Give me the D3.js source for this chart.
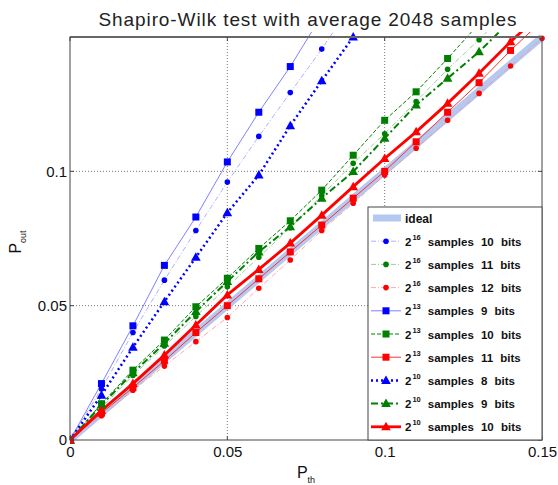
<!DOCTYPE html>
<html><head><meta charset="utf-8">
<script src="https://cdn.jsdelivr.net/npm/d3@7"></script>
<style>body{margin:0;background:#fff}svg{display:block}text{font-family:"Liberation Sans",Arial,sans-serif}</style>
</head><body><svg id="c" width="558" height="485"></svg>
<script>
const pth = [0,0.01,0.02,0.03,0.04,0.05,0.06,0.07,0.08,0.09,0.10,0.11,0.12,0.13,0.14,0.15];
const ideal = pth.slice();
const s16b10 = [0,0.019,0.040,0.0595,0.078,0.096,0.113,0.1293,0.1455,0.163];
const s16b11 = [0,0.012,0.024,0.035,0.046,0.057,0.068,0.079,0.091,0.103,0.114,0.126,0.138,0.149,0.161];
const s16b12 = [0,0.009,0.0185,0.0275,0.0366,0.0456,0.0565,0.067,0.078,0.0881,0.0986,0.1086,0.119,0.129,0.1392,0.1495];
const s13b9 = [0,0.021,0.0425,0.065,0.083,0.1035,0.122,0.139,0.158];
const s13b10 = [0,0.0135,0.026,0.0372,0.0496,0.0602,0.0713,0.0816,0.093,0.106,0.119,0.1296,0.142,0.155];
const s13b11 = [0,0.010,0.0195,0.0295,0.040,0.050,0.060,0.070,0.080,0.090,0.100,0.111,0.122,0.133,0.145,0.156];
const s10b8 = [0,0.0167,0.0345,0.0515,0.068,0.0846,0.0986,0.117,0.1337,0.150];
const s10b9 = [0,0.013,0.025,0.036,0.0478,0.0590,0.070,0.0794,0.090,0.0999,0.1123,0.1247,0.1346,0.1445,0.156];
const s10b10 = [0,0.011,0.021,0.0316,0.0428,0.054,0.0635,0.0733,0.0837,0.0943,0.1048,0.1147,0.1253,0.1365,0.1482,0.159];
const xTicks = [0,0.05,0.1,0.15];
const yTicks = [0,0.05,0.1];
const seriesNames = ["2^16 samples 10 bits","2^16 samples 11 bits","2^16 samples 12 bits","2^13 samples 9 bits","2^13 samples 10 bits","2^13 samples 11 bits","2^10 samples 8 bits","2^10 samples 9 bits","2^10 samples 10 bits"];
const seriesData = [s16b10,s16b11,s16b12,s13b9,s13b10,s13b11,s10b8,s10b9,s10b10];

const styles = [
 {c:"#0000ff",lc:"#9a9aff",w:0.8,dash:"5,2,1,2",m:"dot"},
 {c:"#008000",lc:"#80c080",w:0.8,dash:"5,2,1,2",m:"dot"},
 {c:"#ff0000",lc:"#ff9090",w:0.8,dash:"5,2,1,2",m:"dot"},
 {c:"#0000ff",lc:"#8080ff",w:1,dash:null,m:"sq"},
 {c:"#008000",lc:"#008000",w:1,dash:"4,2",m:"sq"},
 {c:"#ff0000",lc:"#ff3030",w:1,dash:null,m:"sq"},
 {c:"#0000ff",lc:"#0000ff",w:2.5,dash:"2,3",m:"tri"},
 {c:"#008000",lc:"#008000",w:2,dash:"7,3,2,3",m:"tri"},
 {c:"#ff0000",lc:"#ff0000",w:2.8,dash:null,m:"tri"}
];

const svg = d3.select("#c");
const L=70,R=542,T=37,B=440;
const x = d3.scaleLinear().domain([0,0.15]).range([L,R]);
const y = d3.scaleLinear().domain([0,0.15]).range([B,T]);

svg.append("text").attr("x",308).attr("y",26).attr("text-anchor","middle")
  .attr("font-size",19).attr("letter-spacing",0.9).attr("fill","#222").text("Shapiro-Wilk test with average 2048 samples");

svg.append("rect").attr("x",L).attr("y",T).attr("width",R-L).attr("height",B-T).attr("fill","#fff");
const g = svg.append("g");
xTicks.slice(1,-1).forEach(t=>g.append("line").attr("x1",x(t)).attr("x2",x(t)).attr("y1",T).attr("y2",B)
  .attr("stroke","#555").attr("stroke-width",0.8).attr("stroke-dasharray","1,2"));
yTicks.slice(1).forEach(t=>g.append("line").attr("x1",L).attr("x2",R).attr("y1",y(t)).attr("y2",y(t))
  .attr("stroke","#555").attr("stroke-width",0.8).attr("stroke-dasharray","1,2"));

svg.append("defs").append("clipPath").attr("id","cp").append("rect")
  .attr("x",L).attr("y",T-5).attr("width",R-L+6).attr("height",B-T+10);
const plot = svg.append("g").attr("clip-path","url(#cp)");
const line = d3.line().x(d=>x(d[0])).y(d=>y(d[1]));

plot.append("path").datum(pth.map((p,i)=>[p,ideal[i]])).attr("d",line)
  .attr("fill","none").attr("stroke","#b4c8f0").attr("stroke-width",7);

function marker(sel,m,c,cx,cy){
  if(m==="dot") sel.append("circle").attr("cx",cx).attr("cy",cy).attr("r",2.8).attr("fill",c);
  else if(m==="sq") sel.append("rect").attr("x",cx-3.5).attr("y",cy-3.5).attr("width",7).attr("height",7).attr("fill",c);
  else sel.append("path").attr("d",`M${cx},${cy-5}L${cx+4.8},${cy+3.5}L${cx-4.8},${cy+3.5}Z`).attr("fill",c);
}
seriesData.forEach((arr,k)=>{
  const st=styles[k];
  const pts = arr.map((v,i)=>[pth[i],v]);
  const p = plot.append("path").datum(pts).attr("d",line).attr("fill","none")
    .attr("stroke",st.lc).attr("stroke-width",st.w);
  if(st.dash) p.attr("stroke-dasharray",st.dash);
});
seriesData.forEach((arr,k)=>{
  const st=styles[k];
  arr.forEach((v,i)=>{ if(v<=0.1505) marker(plot,st.m,st.c,x(pth[i]),y(v)); });
});

svg.append("rect").attr("x",L).attr("y",T).attr("width",R-L).attr("height",B-T)
  .attr("fill","none").attr("stroke","#444").attr("stroke-width",1);
svg.append("line").attr("x1",L).attr("x2",R).attr("y1",T).attr("y2",T).attr("stroke","#666").attr("stroke-width",2);

const xa = svg.append("g").attr("transform",`translate(0,${B})`)
  .call(d3.axisBottom(x).tickValues(xTicks).tickFormat(d=>d===0?"0":String(d)).tickSize(0).tickPadding(6));
xa.select(".domain").remove();
xa.selectAll("text").attr("font-size",15).attr("fill","#111").attr("font-family","Liberation Sans, Arial");
const ya = svg.append("g").attr("transform",`translate(${L},0)`)
  .call(d3.axisLeft(y).tickValues(yTicks).tickFormat(d=>d===0?"0":String(d)).tickSize(0).tickPadding(3));
ya.select(".domain").remove();
ya.selectAll("text").attr("font-size",15).attr("fill","#111").attr("font-family","Liberation Sans, Arial");
xTicks.forEach(t=>{svg.append("line").attr("x1",x(t)).attr("x2",x(t)).attr("y1",B).attr("y2",B-4).attr("stroke","#444");
  svg.append("line").attr("x1",x(t)).attr("x2",x(t)).attr("y1",T).attr("y2",T+4).attr("stroke","#444");});
yTicks.forEach(t=>{svg.append("line").attr("x1",L).attr("x2",L+4).attr("y1",y(t)).attr("y2",y(t)).attr("stroke","#444");
  svg.append("line").attr("x1",R).attr("x2",R-4).attr("y1",y(t)).attr("y2",y(t)).attr("stroke","#444");});

const xl = svg.append("text").attr("x",306).attr("y",478).attr("text-anchor","middle").attr("font-size",16).attr("fill","#111");
xl.append("tspan").text("P");
xl.append("tspan").attr("font-size",9).attr("dy",5).text("th");
const yl = svg.append("text").attr("transform","translate(21,242) rotate(-90)").attr("text-anchor","middle").attr("font-size",16).attr("fill","#111");
yl.append("tspan").text("P");
yl.append("tspan").attr("font-size",9).attr("dy",5).text("out");

const lg = svg.append("g");
const lx=368, ly=207, lw=174, lh=233;
lg.append("rect").attr("x",lx).attr("y",ly).attr("width",lw).attr("height",lh).attr("fill","#fff").attr("stroke","#444").attr("stroke-width",1);
const rowH=23.2, r0=ly+11;
lg.append("line").attr("x1",lx+5).attr("x2",lx+33).attr("y1",r0).attr("y2",r0).attr("stroke","#b4c8f0").attr("stroke-width",7);
lg.append("text").attr("x",lx+37).attr("y",r0+4.5).attr("font-size",12).attr("font-weight","bold").attr("fill","#111").text("ideal");
seriesNames.forEach((n,k)=>{
  const st=styles[k], yy=r0+rowH*(k+1);
  const ln=lg.append("line").attr("x1",lx+3).attr("x2",lx+33).attr("y1",yy).attr("y2",yy).attr("stroke",st.lc).attr("stroke-width",st.w);
  if(st.dash) ln.attr("stroke-dasharray",st.dash);
  marker(lg,st.m,st.c,lx+18,yy);
  const parts=n.match(/^2\^(\d+) (.*)$/);
  const t=lg.append("text").attr("x",lx+37).attr("y",yy+4.5).attr("font-size",11.5).attr("font-weight","bold")
    .attr("word-spacing",4).attr("fill","#111");
  t.append("tspan").text("2");
  t.append("tspan").attr("font-size",7.5).attr("dy",-6).attr("dx",1).text(parts[1]);
  t.append("tspan").attr("dy",6).attr("dx",7).text(parts[2]);
});
</script></body></html>
